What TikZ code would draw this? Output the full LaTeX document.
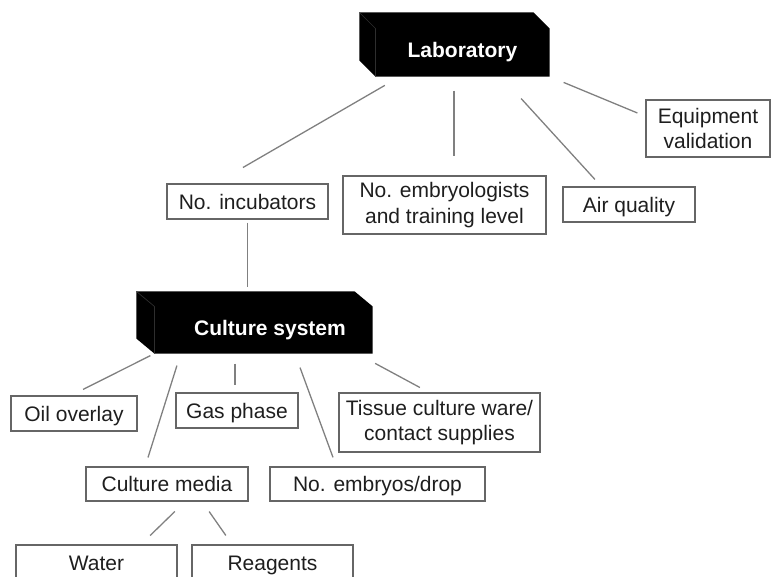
\documentclass[tikz,border=0pt]{standalone}
\usepackage{fontspec}
\setmainfont{Liberation Sans}
\usetikzlibrary{calc, backgrounds}
\definecolor{cline}{HTML}{808080}
\definecolor{cbox}{HTML}{666666}
\definecolor{ctext}{HTML}{1E1E1E}
\definecolor{cedge}{HTML}{2E2E2E}
\tikzset{
  every picture/.style={line width=1.2pt},
  box/.style={draw=cbox, text=ctext, align=center, inner sep=0pt, font=\fontsize{21}{25.5}\selectfont},
  onebox/.style={box, text height=15pt, text depth=0pt},
  block/.style={text=white, inner sep=0pt, font=\fontsize{21}{25}\selectfont\bfseries},
  link/.style={draw=cline, line width=1.3pt},
  edge3d/.style={draw=cedge, line width=0.7pt},
}

\begin{document}
\begin{tikzpicture}[x=1pt, y=-1pt]
  \useasboundingbox (0,0) rectangle (771,576);
  \clip (0,0) rectangle (771,576);
  % black blocks (front faces are the nodes)
  \node[block, minimum width=173pt, minimum height=47pt] (lab) at (462.5,52.5) {Laboratory};
  \node[block, minimum width=217pt, minimum height=46pt] (cult) at (263.5,330) {\hspace*{13pt}Culture system};
  \begin{scope}[on background layer]
    \fill[black] (lab.south west) -- ++(-16,-16) -- ($(lab.north west)+(-16,-16)$) -- ($(lab.north east)+(-16,-16)$) -- (lab.north east) -- (lab.south east) -- cycle;
    \draw[edge3d] (lab.north west) -- ++(-16,-16) (lab.north west) -- (lab.south west);
    \fill[black] (cult.south west) -- ++(-18,-15) -- ($(cult.north west)+(-18,-15)$) -- ($(cult.north east)+(-18,-15)$) -- (cult.north east) -- (cult.south east) -- cycle;
    \draw[edge3d] (cult.north west) -- ++(-18,-15) (cult.north west) -- (cult.south west);
  \end{scope}
  % laboratory level
  \node[onebox, minimum width=161pt, minimum height=35pt] (incub) at (247.5,201.5) {No. incubators};
  \node[box, minimum width=203pt, minimum height=58pt] (embr) at (444.5,205) {No. embryologists\\and training level};
  \node[onebox, minimum width=132pt, minimum height=35pt] (air) at (629,204.5) {Air quality};
  \node[box, minimum width=124pt, minimum height=57pt] (equip) at (708,128.5) {Equipment\\validation};
  % culture system level
  \node[onebox, minimum width=126pt, minimum height=35pt] (oil) at (74,413.5) {Oil overlay};
  \node[onebox, minimum width=122pt, minimum height=35pt] (gas) at (237,410.5) {Gas phase};
  \node[box, minimum width=201pt, minimum height=59pt] (tissue) at (439.5,422.5) {Tissue culture ware/\\contact supplies};
  \node[onebox, minimum width=162pt, minimum height=34pt] (media) at (167,484) {Culture media};
  \node[onebox, minimum width=215pt, minimum height=34pt] (embryos) at (377.5,484) {No. embryos/drop};
  \node[onebox, minimum width=161pt, minimum height=35pt] (water) at (96.5,562.5) {Water};
  \node[onebox, minimum width=161pt, minimum height=35pt] (reagents) at (272.5,562.5) {Reagents};
  % connectors
  \draw[link, shorten <=17.5pt, shorten >=31.7pt] ($(lab.south)+(-62.5,0)$) -- ($(incub.north)+(-32,0)$);
  \draw[link, shorten <=14pt, shorten >=19pt] ($(lab.south)+(-8.5,0)$) -- ($(embr.north)+(9.5,0)$);
  \draw[link, shorten <=29.7pt, shorten >=9.4pt] ($(lab.south)+(38.6,0)$) -- ($(air.north)+(-27.7,0)$);
  \draw[link, shorten <=15.2pt, shorten >=8.7pt] (lab.south east) -- ($(equip.west)+(0,-12.2)$);
  \draw[link, shorten <=3pt, shorten >=4pt] (incub.south) -- ($(cult.north)+(-16,-15)$);
  \draw[link, shorten <=4.5pt, shorten >=13.2pt] (cult.south west) -- ($(oil.north)+(-2.8,0)$);
  \draw[link, shorten <=12.6pt, shorten >=9.4pt] ($(cult.south)+(-82.8,0)$) -- ($(media.north)+(-21.8,0)$);
  \draw[link, shorten <=10pt, shorten >=7pt] ($(cult.south)+(-28.5,0)$) -- ($(gas.north)+(-2,0)$);
  \draw[link, shorten <=14.9pt, shorten >=9.6pt] ($(cult.south)+(31.4,0)$) -- ($(embryos.north)+(-41.2,0)$);
  \draw[link, shorten <=20.6pt, shorten >=10.3pt] ($(cult.south)+(93.5,0)$) -- ($(tissue.north)+(-10.5,0)$);
  \draw[link, shorten <=14.1pt, shorten >=12.7pt] ($(media.south)+(18,0)$) -- ($(water.north)+(44.5,0)$);
  \draw[link, shorten <=12.1pt, shorten >=10.9pt] ($(media.south)+(35.2,0)$) -- ($(reagents.north)+(-40.4,0)$);
\end{tikzpicture}
\end{document}
